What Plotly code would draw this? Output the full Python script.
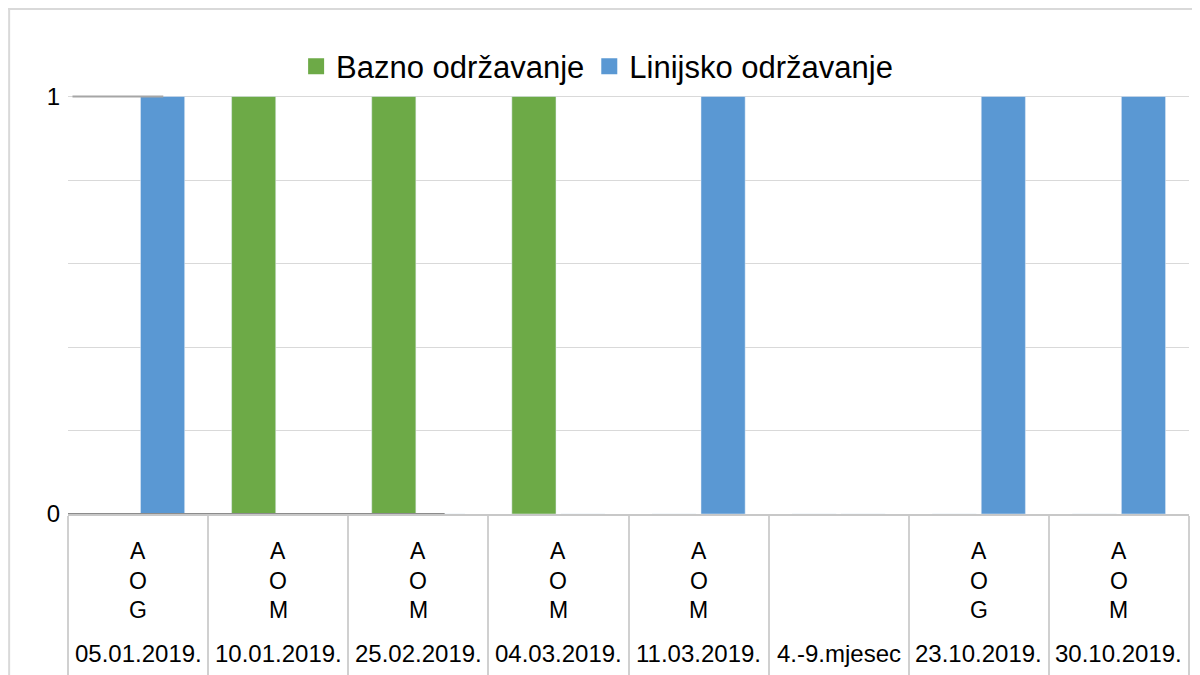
import plotly.graph_objects as go

# ---- data ----
dates = ["05.01.2019.", "10.01.2019.", "25.02.2019.", "04.03.2019.",
         "11.03.2019.", "4.-9.mjesec", "23.10.2019.", "30.10.2019."]
event_types = ["AOG", "AOM", "AOM", "AOM", "AOM", "", "AOG", "AOM"]
bazno = [0, 1, 1, 1, 0, 0, 0, 0]
linijsko = [1, 0, 0, 0, 1, 0, 1, 1]
series_names = ["Bazno održavanje", "Linijsko održavanje"]
y_tickvals = [0, 0.2, 0.4, 0.6, 0.8, 1.0, 1.2]
y_ticktext = ["0", "", "", "", "", "1", ""]

GREEN = "#6DAA47"
BLUE = "#5A98D3"
FONT = "Liberation Sans, Arial, sans-serif"
GRID = "#D9D9D9"

fig = go.Figure()
fig.add_trace(go.Bar(x=dates, y=bazno, name=series_names[0], marker_color=GREEN,
                     showlegend=False, legendgroup="b"))
fig.add_trace(go.Bar(x=dates, y=linijsko, name=series_names[1], marker_color=BLUE,
                     showlegend=False, legendgroup="l"))
# legend-only entries (bigger square symbols)
fig.add_trace(go.Scatter(x=[None], y=[None], mode="markers", name=series_names[0],
                         marker=dict(symbol="square", size=16, color=GREEN), legendgroup="b"))
fig.add_trace(go.Scatter(x=[None], y=[None], mode="markers", name=series_names[1],
                         marker=dict(symbol="square", size=16, color=BLUE), legendgroup="l"))

# category labels below the axis (letters stacked vertically, then date)
letter_shifts = [-37, -67, -96]
for d, t in zip(dates, event_types):
    for ch, ys in zip(t, letter_shifts):
        fig.add_annotation(x=d, xref="x", y=0, yref="paper", yshift=ys, text=ch,
                           showarrow=False, yanchor="middle",
                           font=dict(family=FONT, size=23, color="#000000"))
    fig.add_annotation(x=d, xref="x", y=0, yref="paper", yshift=-139, text=d,
                       showarrow=False, yanchor="middle",
                       font=dict(family=FONT, size=24, color="#000000"))

# outer frame lines and axis artefacts
fig.add_shape(type="line", xref="paper", yref="paper", x0=-0.0535, x1=1.02, y0=1.008, y1=1.008,
              line=dict(color=GRID, width=2))
fig.add_shape(type="line", xref="paper", yref="paper", x0=-0.0525, x1=-0.0525, y0=1.008, y1=-0.33,
              line=dict(color=GRID, width=2))
fig.add_shape(type="line", xref="paper", yref="y", x0=0, x1=0.336, y0=0, y1=0,
              line=dict(color="#8C8C8C", width=2))
fig.add_shape(type="line", xref="paper", yref="y", x0=0.004, x1=0.085, y0=1, y1=1,
              line=dict(color="#A6A6A6", width=2))

# page body has an 8px default margin, so the figure is sized/offset to compensate
fig.update_layout(
    width=1192, height=667,
    margin=dict(l=60, r=11, t=5, b=161, autoexpand=False),
    paper_bgcolor="white", plot_bgcolor="white",
    barmode="group", bargap=0.3, bargroupgap=0.1,
    font=dict(family=FONT, color="#000000"),
    legend=dict(orientation="h", x=0.472, xanchor="center", y=0.893, yanchor="middle",
                font=dict(family=FONT, size=31, color="#000000"),
                bgcolor="rgba(0,0,0,0)", itemclick="toggle"),
    xaxis=dict(type="category", showgrid=False, showticklabels=False, automargin=False,
               showline=True, linecolor="#C8C8C8", linewidth=2,
               ticks="outside", tickson="boundaries", ticklen=160,
               tickcolor="#D0D0D0", tickwidth=2, zeroline=False),
    yaxis=dict(range=[0, 1.2], tickvals=y_tickvals, ticktext=y_ticktext, automargin=False,
               showgrid=True, gridcolor=GRID, gridwidth=1, zeroline=False,
               showline=False, ticks="outside", ticklen=2, tickcolor="rgba(0,0,0,0)",
               tickfont=dict(family=FONT, size=24, color="#000000")),
)

fig.write_html("out.html")
